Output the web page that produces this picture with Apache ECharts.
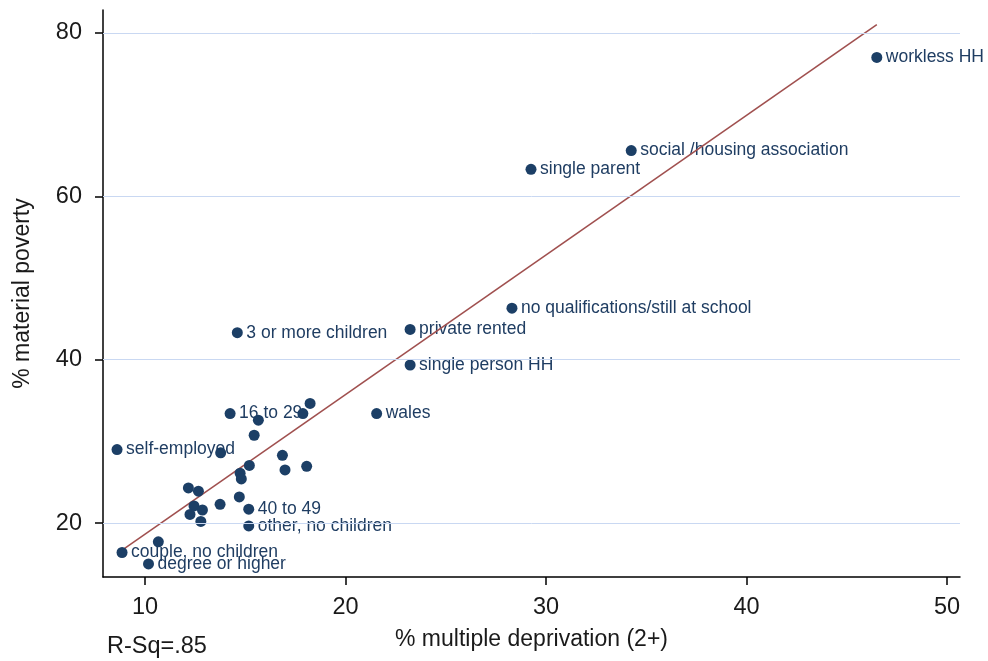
<!DOCTYPE html>
<html><head><meta charset="utf-8">
<script src="https://cdn.jsdelivr.net/npm/echarts@6/dist/echarts.min.js"></script>
<style>html,body{margin:0;padding:0;background:#fff}#c{width:988px;height:661px}</style>
</head><body><div id="c"></div>
<script>
// labelled points
var labelNames = ["workless HH","social /housing association","single parent","no qualifications/still at school","private rented","3 or more children","single person HH","wales","16 to 29","self-employed","40 to 49","other, no children","couple, no children","degree or higher"];
var labelX = [46.5, 34.25, 29.25, 28.3, 23.22, 14.6, 23.22, 21.55, 14.24, 8.6, 15.17, 15.17, 8.85, 10.17];
var labelY = [77.0, 65.6, 63.3, 46.3, 43.7, 43.3, 39.35, 33.4, 33.4, 29.0, 21.7, 19.65, 16.4, 15.0];
// unlabelled points
var otherX = [17.87, 18.23, 15.65, 15.44, 13.77, 16.85, 16.98, 18.06, 15.2, 14.74, 14.8, 12.16, 12.66, 14.7, 13.74, 12.44, 12.86, 12.24, 12.78, 10.66];
var otherY = [33.4, 34.65, 32.6, 30.75, 28.6, 28.3, 26.5, 26.95, 27.05, 26.1, 25.4, 24.3, 23.9, 23.2, 22.3, 22.1, 21.6, 21.06, 20.2, 17.7];
// fitted line end points
var fitX = [8.8, 46.5];
var fitY = [16.6, 81.0];
var xTicks = [10, 20, 30, 40, 50];
var yTicks = [20, 40, 60, 80];

var labelPts = [], allPts = [];
for (var i = 0; i < labelX.length; i++) {
  labelPts.push({value: [labelX[i], labelY[i]], name: labelNames[i]});
  allPts.push([labelX[i], labelY[i]]);
}
for (var j = 0; j < otherX.length; j++) allPts.push([otherX[j], otherY[j]]);

var font = "Liberation Sans, Arial, sans-serif";
var tickColor = '#1a1a1a';
var chart = echarts.init(document.getElementById('c'), null, {renderer: 'canvas'});
chart.setOption({
  animation: false,
  backgroundColor: '#fff',
  grid: {left: 103, top: 10, right: 28, bottom: 84},
  xAxis: {
    type: 'value', min: 7.9, max: 50.65,
    name: '% multiple deprivation (2+)', nameLocation: 'middle', nameGap: 51,
    nameTextStyle: {fontSize: 23, color: tickColor, fontFamily: font},
    axisLine: {show: true, onZero: false, lineStyle: {color: '#000', width: 1.5}},
    axisTick: {show: true, length: 8, customValues: xTicks, lineStyle: {color: '#000', width: 1.5}},
    axisLabel: {customValues: xTicks, fontSize: 23.5, color: tickColor, fontFamily: font, margin: 19},
    splitLine: {show: false}
  },
  yAxis: {
    type: 'value', min: 13.4, max: 82.8,
    name: '% material poverty', nameLocation: 'middle', nameGap: 69,
    nameTextStyle: {fontSize: 23, color: tickColor, fontFamily: font},
    axisLine: {show: true, onZero: false, lineStyle: {color: '#000', width: 1.5}},
    axisTick: {show: true, length: 8, customValues: yTicks, lineStyle: {color: '#000', width: 1.5}},
    axisLabel: {customValues: yTicks, fontSize: 23.5, color: tickColor, fontFamily: font, margin: 21},
    splitLine: {show: false}
  },
  series: [
    {
      type: 'scatter', data: [], z: 1,
      markLine: {
        silent: true, symbol: 'none', label: {show: false},
        lineStyle: {color: '#c9d8f2', type: 'solid', width: 1},
        data: yTicks.map(function (v) { return {yAxis: v}; })
      }
    },
    {
      type: 'scatter', data: labelPts, symbolSize: 1,
      itemStyle: {color: '#1c3f66', opacity: 1},
      label: {show: true, position: 'right', distance: 8.5, fontSize: 17.5, color: '#1f3d62', fontFamily: font,
        opacity: 1, formatter: function (p) { return p.name; }},
      z: 2
    },
    {
      type: 'line', data: [[fitX[0], fitY[0]], [fitX[1], fitY[1]]],
      showSymbol: false, symbol: 'none',
      lineStyle: {color: '#a0504f', width: 1.6}, z: 3
    },
    {
      type: 'scatter', data: allPts, symbolSize: 11,
      itemStyle: {color: '#1c3f66', opacity: 1},
      z: 4
    }
  ],
  graphic: [{
    type: 'text', left: 107, top: 635,
    style: {text: 'R-Sq=.85', font: '23.5px ' + font, fill: tickColor}
  }]
});
</script></body></html>
